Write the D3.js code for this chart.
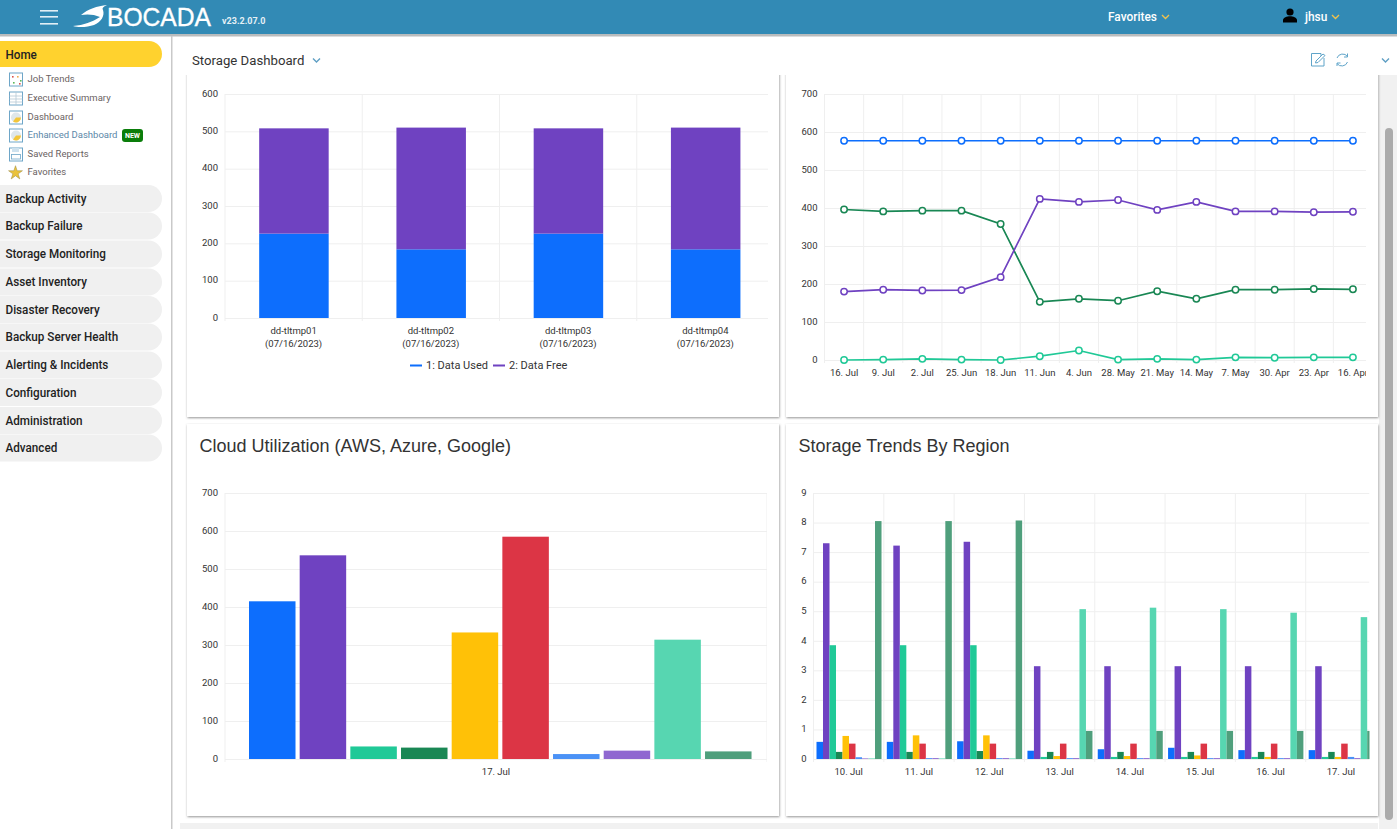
<!DOCTYPE html>
<html><head><meta charset="utf-8">
<script src="https://cdn.jsdelivr.net/npm/d3@7"></script>
<style>
html,body{margin:0;padding:0;background:#fff;overflow:hidden}
svg{display:block;font-family:Roboto,sans-serif}
.axis path.domain{display:none}
.axis text{fill:#333;font-size:9.5px;font-family:Roboto,sans-serif}
.axis line{stroke:#efefef}
</style></head><body>
<svg id="page" width="1397" height="829"></svg>
<script>
// ---- data ----
const navTop = ["Home"];
const navSub = ["Job Trends","Executive Summary","Dashboard","Enhanced Dashboard","Saved Reports","Favorites"];
const navMain = ["Backup Activity","Backup Failure","Storage Monitoring","Asset Inventory","Disaster Recovery","Backup Server Health","Alerting & Incidents","Configuration","Administration","Advanced"];

const systems = ["dd-tltmp01","dd-tltmp02","dd-tltmp03","dd-tltmp04"];
const systemDate = "(07/16/2023)";
const dataUsed = [226,184,226,184];
const dataFree = [282,326,282,326];

const weeks = ["16. Jul","9. Jul","2. Jul","25. Jun","18. Jun","11. Jun","4. Jun","28. May","21. May","14. May","7. May","30. Apr","23. Apr","16. Apr"];
const lineBlue   = [577,577,577,577,577,577,577,577,577,577,577,577,577,577];
const lineGreen  = [396,391,393,393,358,153,161,156,181,161,185,185,187,186];
const linePurple = [180,185,183,184,218,424,416,421,395,416,391,391,389,390];
const lineTeal   = [0,1,3,1,0,10,25,1,3,1,7,6,7,7];

const cloudDays = ["17. Jul"];
const cloudValues = [415,536,33,30,333,585,13,22,314,20];

const regionDays = ["10. Jul","11. Jul","12. Jul","13. Jul","14. Jul","15. Jul","16. Jul","17. Jul"];
const rBlue    = [0.58,0.58,0.60,0.28,0.33,0.38,0.30,0.30];
const rPurple  = [7.30,7.22,7.35,3.14,3.14,3.14,3.14,3.14];
const rTeal    = [3.85,3.85,3.85,0.07,0.07,0.07,0.07,0.07];
const rGreen   = [0.24,0.24,0.27,0.24,0.24,0.24,0.24,0.24];
const rYellow  = [0.78,0.80,0.80,0.10,0.10,0.12,0.07,0.07];
const rRed     = [0.52,0.52,0.52,0.52,0.52,0.52,0.52,0.52];
const rBlue2   = [0.06,0.03,0.03,0.03,0.03,0.03,0.03,0.07];
const rPurple2 = [0.02,0.03,0.03,0.03,0.03,0.03,0.03,0.03];
const rTeal2   = [0.02,0.02,0.02,5.07,5.12,5.07,4.95,4.80];
const rGreen2  = [8.05,8.05,8.07,0.95,0.95,0.95,0.95,0.95];

const palette = ["#0d6efd","#6f42c1","#20c997","#198754","#ffc107","#dc3545","#4b92f6","#8f67d0","#57d6b1","#4f9f7c"];

// ---- page frame ----
const svg = d3.select("#page");
const defs = svg.append("defs");
const sh = defs.append("filter").attr("id","sh").attr("x","-3%").attr("y","-3%").attr("width","106%").attr("height","106%");
sh.append("feDropShadow").attr("dx",0.5).attr("dy",1).attr("stdDeviation",1.3).attr("flood-color","#666").attr("flood-opacity",0.7);

function rect(x,y,w,h,fill,extra){const r=svg.append("rect").attr("x",x).attr("y",y).attr("width",w).attr("height",h).attr("fill",fill);if(extra)for(const k in extra)r.attr(k,extra[k]);return r;}
function text(x,y,s,size,fill,opts){opts=opts||{};return svg.append("text").attr("x",x).attr("y",y).attr("dy","0.35em").attr("font-size",size).attr("fill",fill).attr("font-family",opts.font||"Roboto,sans-serif").attr("font-weight",opts.weight||400).attr("text-anchor",opts.anchor||"start").text(s);}
function squeeze(t,k){t.attr("textLength",t.node().getComputedTextLength()*k).attr("lengthAdjust","spacingAndGlyphs");return t;}

// content background, scrollbar, bottom strip
rect(180,823,1198,6,"#f1f1f1");
rect(1379,75,18,754,"#f1f1f1");
rect(1385,128,8,692,"#ababab",{rx:4});

// cards
const cards = [[187,70,592,347],[786,70,592,347],[187,424,592,392],[786,424,592,392]];
cards.forEach(c=>rect(c[0],c[1],c[2],c[3],"#fff",{filter:"url(#sh)"}));

// white band hiding the top of the first row cards
rect(172,36,1207,39,"#fff");
rect(1379,36,18,39,"#fff");

// header
rect(0,0,1397,34,"#328ab5");
rect(0,34,1397,2.5,"#b9bcbd");
[10,16,23].forEach(y=>rect(40,y,18,1.6,"#e2eff5"));
svg.append("path").attr("fill","#fff").attr("d","M73 26C84 25 92 22 100 17C94 14 86 14 81 15C88 9 97 6 107 5C103 7 102 8 103 10C105 16 101 22 94 25C88 27 79 28 73 26Z");
text(107,17,"BOCADA",26.5,"#fff",{font:"'Liberation Sans',sans-serif"}).attr("stroke","#fff").attr("stroke-width",.35).attr("textLength",104).attr("lengthAdjust","spacingAndGlyphs");
text(222,20.5,"v23.2.07.0",9,"#e5f0f5",{weight:700});
squeeze(text(1108,16.5,"Favorites",12.5,"#fff",{weight:500}),0.95);
function chevron(x,y,color,w){svg.append("path").attr("d",`M${x} ${y}l${w||3.5} 3.5l${w||3.5} -3.5`).attr("fill","none").attr("stroke",color).attr("stroke-width",1.4);}
chevron(1162,15,"#f0c14b");
svg.append("circle").attr("cx",1290).attr("cy",12).attr("r",3.6).attr("fill","#000");
svg.append("path").attr("d","M1283 22.5v-2.5c0-2.5 4-3.8 7-3.8s7 1.3 7 3.8v2.5z").attr("fill","#000");
squeeze(text(1305,16.5,"jhsu",12.5,"#fff",{weight:500}),0.95);
chevron(1332,15,"#f0c14b");

// sidebar
rect(171,36,1.5,793,"#c9c9c9");
rect(-20,41,182,26,"#ffd22e",{rx:13});
squeeze(text(5.5,54.5,navTop[0],12.5,"#222",{weight:500}),0.935);
const subY=[79,98,117,135,154,172];
navSub.forEach((s,i)=>{
  text(27.5,subY[i],s,9.5,i===3?"#5b87a8":"#6a6262");
  const y=subY[i];
  if(i===5){
    svg.append("path").attr("d",d3.symbol(d3.symbolStar,60)()).attr("transform",`translate(15.5,${y+1})`).attr("fill","#eac23c").attr("stroke","#9a8a40").attr("stroke-width",.5);
  } else {
    rect(9.5,y-6,13,13,"#fff",{stroke:"#6ea6c8","stroke-width":1});
    if(i===1){svg.append("path").attr("d",`M9.5 ${y-2}h13M9.5 ${y+1}h13M9.5 ${y+4}h13M16 ${y-6}v13`).attr("stroke","#b5c8d4").attr("stroke-width",.8);}
    if(i===2||i===3){svg.append("circle").attr("cx",16).attr("cy",y+.5).attr("r",5).attr("fill","#dfe7ea");
      svg.append("path").attr("d",`M16 ${y+.5}L21 ${y+.5}A5 5 0 0 1 13 ${y+4.5}Z`).attr("fill","#f3c63a");}
    if(i===0){[[12,-3,"#d9534f"],[17,-3,"#f0ad4e"],[20,1,"#5cb85c"],[13,3,"#5cb85c"],[19,4,"#d9534f"]].forEach(p=>rect(p[0],y+p[1],1.6,1.6,p[2]));}
    if(i===4){rect(11.5,y+.5,9,4.5,"#fff",{stroke:"#6ea6c8","stroke-width":.8});rect(12,y-6,7,4,"#cfe2ee");}
  }
});
rect(122,129,21,13,"#0a7d0a",{rx:3});
text(132.5,135.5,"NEW",7,"#fff",{weight:700,anchor:"middle"});
const mainY=[198.5,226,254,282,309.5,337,365,392.5,420.5,448];
navMain.forEach((s,i)=>{
  rect(-20,mainY[i]-13.5,182,27,"#f0f0f0",{rx:13.5});
  squeeze(text(5.5,mainY[i],s,12.5,"#222",{weight:500}),0.935);
});

// toolbar
text(192,60.5,"Storage Dashboard",13.2,"#333");
chevron(313,58.5,"#5f9fc4");
svg.append("path").attr("d","M1321 56v-2.5h-9.5v12.5h12.5v-8M1316 61l7-7l2 1.5l-7 7l-2.5 .5z").attr("fill","none").attr("stroke","#5fa4c9").attr("stroke-width",1);
svg.append("path").attr("d","M1337 58a6 6 0 0 1 10.5 -1.5M1347.5 62a6 6 0 0 1 -10.5 1.5M1347.5 53.5v3.5h-3.5M1337 66v-3h3.5").attr("fill","none").attr("stroke","#5fa4c9").attr("stroke-width",1);
chevron(1382,58.5,"#5f9fc4");

// titles
text(199.5,446,"Cloud Utilization (AWS, Azure, Google)",18,"#333",{font:"'Liberation Sans',sans-serif"});
text(798.5,446,"Storage Trends By Region",18,"#333",{font:"'Liberation Sans',sans-serif"});

// ---- chart helper ----
let clipN=0;
function frame(o){
  const id="clip"+(clipN++);
  defs.append("clipPath").attr("id",id).append("rect").attr("x",o.left-40).attr("y",o.top-8).attr("width",o.clip-o.left+40).attr("height",o.bottom-o.top+60);
  const g=svg.append("g").attr("clip-path",`url(#${id})`);
  const y=d3.scaleLinear().domain([0,o.max]).range([o.bottom,o.top]);
  const x=d3.scaleBand().domain(o.cats).range([o.left,o.right]);
  g.append("g").attr("class","axis").attr("transform",`translate(${o.left},0)`)
    .call(d3.axisLeft(y).tickValues(d3.range(0,o.max+1,o.step)).tickSize(-(o.clip-o.left)).tickPadding(7).tickFormat(d3.format("d")))
    .call(a=>a.selectAll(".tick line").attr("stroke","#efefef"))
    .call(a=>a.selectAll(".tick text").attr("y",-0.8));
  const edges=o.cats.map(c=>x(c)); edges.push(o.right);
  g.selectAll("line.v").data(edges).join("line").attr("class","v")
    .attr("x1",d=>d).attr("x2",d=>d).attr("y1",o.top).attr("y2",o.bottom+3).attr("stroke","#efefef");
  const ax=g.append("g").attr("class","axis").attr("transform",`translate(0,${o.bottom})`)
    .call(d3.axisBottom(x).tickSize(0).tickPadding(o.pad||9));
  return {g,x,y,ax};
}

// chart 1: stacked capacity
{
  const {g,x,y,ax}=frame({left:225,right:774,clip:768,top:94,bottom:318,max:600,step:100,cats:systems,pad:9});
  const barW=69.5;
  const rows=systems.map((s,i)=>({s,used:dataUsed[i],free:dataFree[i]}));
  const stack=d3.stack().keys(["used","free"])(rows);
  const colors=["#0d6efd","#6f42c1"];
  stack.forEach((layer,k)=>{
    g.selectAll(null).data(layer).join("rect")
      .attr("x",d=>x(d.data.s)+x.bandwidth()/2-barW/2+0.3).attr("width",barW)
      .attr("y",d=>y(d[1])).attr("height",d=>y(d[0])-y(d[1])).attr("fill",colors[k]);
  });
  ax.selectAll(".tick").append("text").attr("fill","#333").attr("y",22).attr("dy","0.71em").attr("text-anchor","middle").text(systemDate);
  rect(410,364.5,12,2,"#0d6efd"); text(426,365.5,"1: Data Used",11,"#333");
  rect(493,364.5,12,2,"#6f42c1"); text(509,365.5,"2: Data Free",11,"#333");
}

// chart 2: weekly lines
{
  const {g,x,y}=frame({left:824.5,right:1372.5,clip:1366,top:94,bottom:360,max:700,step:100,cats:weeks,pad:9});
  const seriesL=[[lineTeal,"#20c997"],[lineBlue,"#0d6efd"],[lineGreen,"#198754"],[linePurple,"#6f42c1"]];
  const cx=d=>x(d)+x.bandwidth()/2;
  seriesL.forEach(([vals,col])=>{
    const pts=weeks.map((w,i)=>[cx(w),y(vals[i])]);
    g.append("path").attr("d",d3.line()(pts)).attr("fill","none").attr("stroke",col).attr("stroke-width",1.7);
    g.selectAll(null).data(pts).join("circle").attr("cx",d=>d[0]).attr("cy",d=>d[1]).attr("r",3.2)
      .attr("fill","#fff").attr("stroke",col).attr("stroke-width",1.5);
  });
}

// chart 3: cloud utilisation
{
  const {g,x,y}=frame({left:225,right:767,clip:767,top:493,bottom:759,max:700,step:100,cats:cloudDays,pad:9});
  const inner=d3.scaleBand().domain(d3.range(cloudValues.length)).range([x(cloudDays[0])+23.3,x(cloudDays[0])+x.bandwidth()-12]);
  g.selectAll(null).data(cloudValues).join("rect")
    .attr("x",(d,i)=>inner(i)+0.7).attr("width",46.5)
    .attr("y",d=>y(d)).attr("height",d=>y(0)-y(d))
    .attr("fill",(d,i)=>palette[i]);
}

// chart 4: regional trends
{
  const {g,x,y}=frame({left:813.5,right:1376,clip:1369.5,top:493,bottom:759,max:9,step:1,cats:regionDays,pad:9});
  const seriesR=[rBlue,rPurple,rTeal,rGreen,rYellow,rRed,rBlue2,rPurple2,rTeal2,rGreen2];
  const inner=d3.scaleBand().domain(d3.range(seriesR.length)).range([3,x.bandwidth()-2.3]);
  seriesR.forEach((vals,k)=>{
    g.selectAll(null).data(regionDays).join("rect")
      .attr("x",d=>x(d)+inner(k)).attr("width",inner.bandwidth())
      .attr("y",(d,i)=>y(vals[i])).attr("height",(d,i)=>y(0)-y(vals[i]))
      .attr("fill",palette[k]);
  });
}
</script>
</body></html>
